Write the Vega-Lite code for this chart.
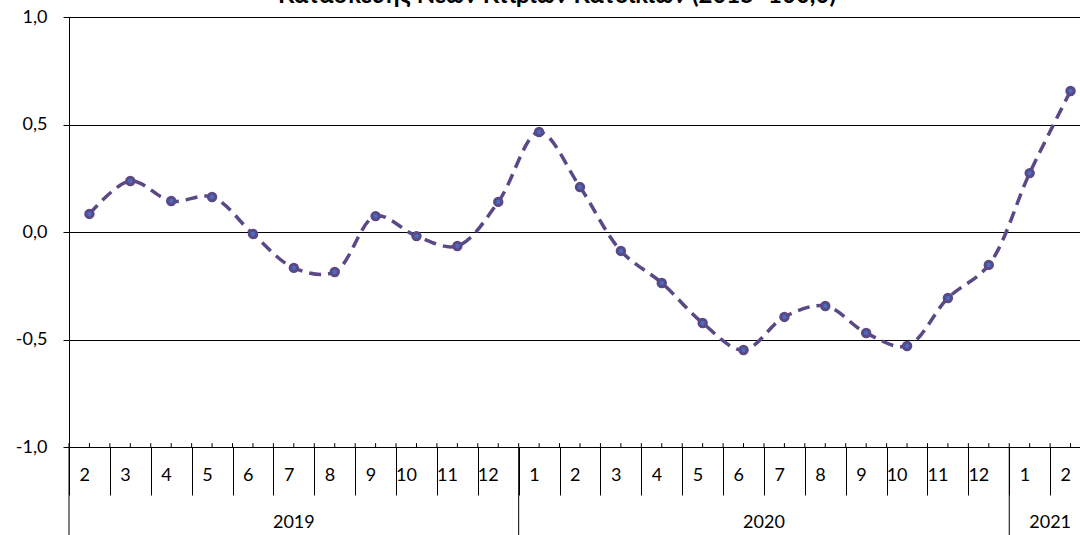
{
  "$schema": "https://vega.github.io/schema/vega-lite/v6.json",
  "width": 1022,
  "height": 430,
  "autosize": "none",
  "padding": {"left": 69, "top": 17, "right": 0, "bottom": 88},
  "background": "white",
  "title": {"text": "Κατασκευής Νέων Κτιρίων Κατοικιών (2015=100,0)", "font": "Lato", "fontSize": 24, "fontWeight": "bold", "color": "black", "anchor": "middle", "offset": 0, "dx": -23},
  "config": {"view": {"stroke": null}, "font": "Lato"},
  "datasets": {
    "series": [
      {"month": "2019-02", "value": 0.084},
      {"month": "2019-03", "value": 0.237},
      {"month": "2019-04", "value": 0.144},
      {"month": "2019-05", "value": 0.163},
      {"month": "2019-06", "value": -0.009},
      {"month": "2019-07", "value": -0.167},
      {"month": "2019-08", "value": -0.186},
      {"month": "2019-09", "value": 0.074},
      {"month": "2019-10", "value": -0.019},
      {"month": "2019-11", "value": -0.065},
      {"month": "2019-12", "value": 0.140},
      {"month": "2020-01", "value": 0.465},
      {"month": "2020-02", "value": 0.209},
      {"month": "2020-03", "value": -0.088},
      {"month": "2020-04", "value": -0.237},
      {"month": "2020-05", "value": -0.423},
      {"month": "2020-06", "value": -0.549},
      {"month": "2020-07", "value": -0.395},
      {"month": "2020-08", "value": -0.344},
      {"month": "2020-09", "value": -0.470},
      {"month": "2020-10", "value": -0.530},
      {"month": "2020-11", "value": -0.307},
      {"month": "2020-12", "value": -0.153},
      {"month": "2021-01", "value": 0.274},
      {"month": "2021-02", "value": 0.656}
    ],
    "years": [
      {"year": "2019", "start": "2019-02", "mid": "2019-07"},
      {"year": "2020", "start": "2020-01", "mid": "2020-07"},
      {"year": "2021", "start": "2021-01", "mid": "2021-02"}
    ]
  },
  "layer": [
    {
      "data": {"name": "series"},
      "mark": {"type": "rule", "color": "black", "strokeWidth": 1},
      "encoding": {
        "x": {"field": "month", "type": "nominal", "bandPosition": 0.5},
        "y": {"datum": -1},
        "y2": {"datum": -0.982}
      }
    },
    {
      "data": {"name": "series"},
      "mark": {"type": "rule", "color": "black", "strokeWidth": 1},
      "encoding": {
        "x": {"field": "month", "type": "nominal", "bandPosition": 0},
        "y": {"datum": -1},
        "y2": {"datum": -0.982}
      }
    },
    {
      "data": {"name": "years"},
      "mark": {"type": "rule", "color": "black", "strokeWidth": 1},
      "encoding": {
        "x": {"field": "start", "type": "nominal", "bandPosition": 0},
        "y": {"datum": -1},
        "y2": {"datum": -1.42}
      }
    },
    {
      "data": {"name": "years"},
      "transform": [{"filter": "datum.year == '2019'"}],
      "mark": {"type": "text", "font": "Lato", "fontSize": 18, "color": "black", "baseline": "middle", "align": "center"},
      "encoding": {
        "x": {"field": "mid", "type": "nominal", "bandPosition": 0.5},
        "y": {"datum": -1.353},
        "text": {"field": "year"}
      }
    },
    {
      "data": {"name": "years"},
      "transform": [{"filter": "datum.year != '2019'"}],
      "mark": {"type": "text", "font": "Lato", "fontSize": 18, "color": "black", "baseline": "middle", "align": "center"},
      "encoding": {
        "x": {"field": "mid", "type": "nominal", "bandPosition": 0},
        "y": {"datum": -1.353},
        "text": {"field": "year"}
      }
    },
    {
      "data": {"name": "series"},
      "mark": {"type": "line", "interpolate": "catmull-rom", "color": "#5B4886", "strokeWidth": 3.5, "strokeDash": [12, 7]},
      "encoding": {
        "x": {
          "field": "month", "type": "nominal",
          "scale": {"paddingInner": 0, "paddingOuter": 0},
          "axis": {
            "title": null, "orient": "bottom",
            "labelExpr": "isString(datum.value) && length(datum.value) == 7 ? toString(toNumber(substring(datum.value, 5))) : ''",
            "labelAngle": 0, "labelFontSize": 18, "labelColor": "black", "labelFont": "Lato",
            "labelBaseline": "middle", "labelPadding": -20,
            "tickBand": "extent", "tickSize": 48, "tickColor": "black", "tickWidth": 1,
            "domainColor": "black", "domainWidth": 1
          }
        },
        "y": {
          "field": "value", "type": "quantitative",
          "scale": {"domain": [-1, 1], "nice": false, "zero": false},
          "axis": {
            "title": null, "values": [-1, -0.5, 0, 0.5, 1],
            "labelExpr": "replace(replace(format(datum.value, '.1f'), '.', ','), '−', '-')",
            "labelFontSize": 18, "labelColor": "black", "labelFont": "Lato", "labelPadding": 16,
            "tickSize": 6, "tickColor": "black",
            "grid": true, "gridColor": "black", "gridWidth": 1, "gridOpacity": 1,
            "domainColor": "black", "domainWidth": 1
          }
        }
      }
    },
    {
      "data": {"name": "series"},
      "mark": {"type": "point", "filled": true, "fill": "#4A6DC0", "stroke": "#5B4886", "strokeWidth": 3, "size": 55, "opacity": 1},
      "encoding": {
        "x": {"field": "month", "type": "nominal"},
        "y": {"field": "value", "type": "quantitative"}
      }
    }
  ]
}
